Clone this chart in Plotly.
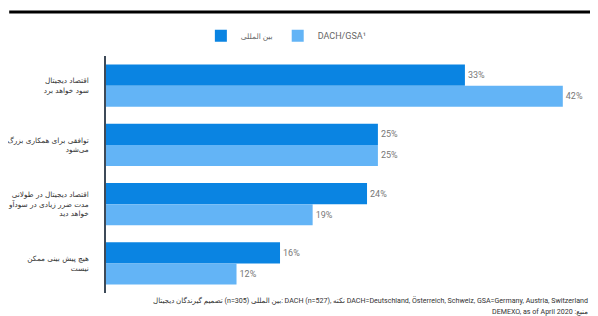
import plotly.graph_objects as go

categories = [
    "اقتصاد دیجیتال<br>سود خواهد برد",
    "توافقی برای همکاری بزرگ<br>می‌شود",
    "اقتصاد دیجیتال در طولانی<br>مدت ضرر زیادی در سودآو<br>خواهد دید",
    "هیچ پیش بینی ممکن<br>نیست",
]
series_names = ["بین المللی", "DACH/GSA¹"]
international = [33, 25, 24, 16]
dach = [42, 25, 19, 12]
colors = ["#0A84E2", "#63B4F6"]

footer1 = "تصمیم گیرندگان دیجیتال (n=305) بین المللی: DACH (n=527), نکته DACH=Deutschland, Österreich, Schweiz, GSA=Germany, Austria, Switzerland"
footer2 = "DEMEXO, as of April 2020 :منبع"

FONT = "Roboto, 'DejaVu Sans', sans-serif"


def legend_label(name):
    # Arabic names are set a little smaller, as in the source legend
    if any("\u0600" <= ch <= "\u06ff" for ch in name):
        return f'<span style="font-size:7.5px">{name}</span>'
    return name


fig = go.Figure()
for name, vals, col in zip(series_names, [international, dach], colors):
    fig.add_trace(go.Bar(
        y=categories, x=vals, name=legend_label(name), orientation="h",
        marker=dict(color=col, line=dict(width=0)),
        text=[f"{v}%" for v in vals], textposition="outside",
        textfont=dict(size=9, color="#777777", family=FONT),
        cliponaxis=False,
    ))

# page has an 8px body margin, so the figure is sized 8px smaller
fig.update_layout(
    width=590, height=308,
    margin=dict(l=98, r=8, t=48, b=23, autoexpand=False),
    paper_bgcolor="white", plot_bgcolor="white",
    barmode="group", bargap=0.29, bargroupgap=0,
    font=dict(family=FONT, size=9, color="#444444"),
    showlegend=True,
    legend=dict(orientation="h", x=0.196, y=1.147, xanchor="left", yanchor="top",
                font=dict(size=9, color="#666666"), traceorder="normal",
                itemwidth=30),
    xaxis=dict(range=[0, 44.5], showgrid=False, zeroline=False, showticklabels=False,
               showline=False, fixedrange=True, automargin=False),
    yaxis=dict(autorange="reversed", showgrid=False, zeroline=False,
               showline=True, linecolor="#3E4A58", linewidth=1.5,
               ticks="outside", ticklen=14, tickcolor="rgba(0,0,0,0)",
               automargin=False, ticklabeloverflow="allow",
               tickfont=dict(size=7.3, color="#333333", family="'DejaVu Sans', sans-serif")),
    shapes=[dict(type="line", xref="paper", yref="paper",
                 x0=-0.2, x1=1.02, y0=1.186, y1=1.186,
                 line=dict(color="black", width=3))],
    annotations=[
        dict(text=footer1, xref="paper", yref="paper", x=1.0, y=-0.03,
             xanchor="right", yanchor="middle", showarrow=False,
             font=dict(size=7.1, color="#333333")),
        dict(text=footer2, xref="paper", yref="paper", x=1.0, y=-0.076,
             xanchor="right", yanchor="middle", showarrow=False,
             font=dict(size=7.1, color="#333333")),
    ],
)

fig.write_html("out.html")
